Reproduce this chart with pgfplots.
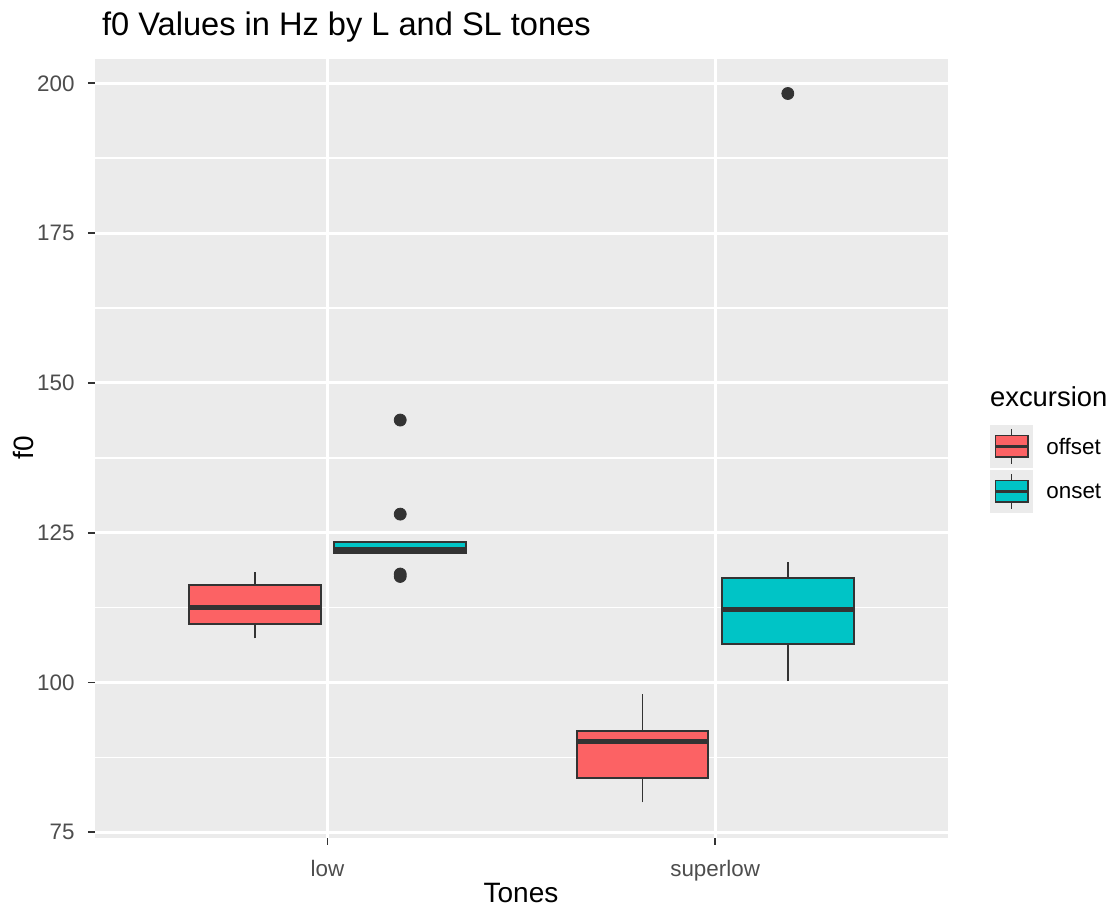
\documentclass[border=0pt]{standalone}
\usepackage{fontspec}
\setmainfont{Liberation Sans}
\usepackage{pgfplots}
\pgfplotsset{compat=1.18}
\definecolor{gray92}{HTML}{EBEBEB}
\definecolor{gray20}{HTML}{333333}
\definecolor{gray30}{HTML}{4D4D4D}
\definecolor{offsetc}{HTML}{FC6264}
\definecolor{onsetc}{HTML}{00C4C6}
% legend key, ggplot style, 21.5pt square with lower left corner at (#2,#3)
\newcommand{\keyimg}[3]{%
  \fill[gray92] (#2,#3) rectangle ++(21.5pt,21.5pt);
  \draw[gray20, line width=0.9pt] ([shift={(10.75pt,2.15pt)}]#2,#3) -- ++(0,17.2pt);
  \draw[gray20, line width=0.9pt, fill=#1] ([shift={(2.7pt,5.4pt)}]#2,#3) rectangle ++(16.1pt,10.8pt);
  \draw[gray20, line width=1.4pt] ([shift={(2.7pt,10.75pt)}]#2,#3) -- ++(16.1pt,0);}
\pgfplotsset{
  whisk/.style={gray20, line width=0.95pt, no markers},
  box/.style={draw=gray20, fill=#1, line width=0.95pt, no markers},
  med/.style={gray20, line width=2.5pt, no markers},
  outl/.style={only marks, mark=*, mark size=3pt, draw=gray20, fill=gray20},
}
\begin{document}
\begin{tikzpicture}
\useasboundingbox (0,0) rectangle (554pt,454.5pt);
\begin{axis}[
  at={(47.5pt,35.5pt)}, anchor=south west,
  scale only axis, width=426.35pt, height=389.5pt,
  xmin=0.4, xmax=2.6, ymin=74.05, ymax=204.06,
  axis background/.style={fill=gray92},
  axis line style={draw=none},
  xtick={1,2}, xticklabels={low,superlow},
  ytick={75,100,125,150,175,200},
  minor ytick={87.5,112.5,137.5,162.5,187.5},
  grid=both,
  major grid style={white, line width=1.5pt},
  minor grid style={white, line width=0.75pt},
  tick align=outside, major tick length=3.5pt, minor tick length=0pt,
  tick style={gray20, line width=0.9pt},
  xtick pos=bottom, ytick pos=left,
  /pgf/number format/assume math mode=true,
  ticklabel style={font=\fontsize{11.2}{13}\selectfont, text=gray30},
  yticklabel style={anchor=east, inner sep=0pt, xshift=-6.5pt},
  xticklabel style={anchor=north, inner sep=0pt, yshift=-7.5pt},
]
% low / offset: whiskers 107.38-118.5, box 109.77-116.27, median 112.55
\addplot[whisk] coordinates {(0.8125,107.38) (0.8125,118.5)};
\addplot[box=offsetc] coordinates {(0.6425,109.77) (0.9825,109.77) (0.9825,116.27) (0.6425,116.27)} -- cycle;
\addplot[med] coordinates {(0.6425,112.55) (0.9825,112.55)};
% low / onset: box 121.66-123.5, median 122.2, outliers
\addplot[box=onsetc] coordinates {(1.0175,121.66) (1.3575,121.66) (1.3575,123.5) (1.0175,123.5)} -- cycle;
\addplot[med] coordinates {(1.0175,122.2) (1.3575,122.2)};
\addplot[outl] coordinates {(1.1875,143.8) (1.1875,128.1) (1.1875,117.7) (1.1875,118.1)};
% superlow / offset: whiskers 80.0-98.1, box 84.0-91.9, median 90.2
\addplot[whisk] coordinates {(1.8125,80.0) (1.8125,98.1)};
\addplot[box=offsetc] coordinates {(1.6425,84.0) (1.9825,84.0) (1.9825,91.9) (1.6425,91.9)} -- cycle;
\addplot[med] coordinates {(1.6425,90.2) (1.9825,90.2)};
% superlow / onset: whiskers 100.25-120.06, box 106.5-117.4, median 112.15
\addplot[whisk] coordinates {(2.1875,100.25) (2.1875,120.06)};
\addplot[box=onsetc] coordinates {(2.0175,106.5) (2.3575,106.5) (2.3575,117.4) (2.0175,117.4)} -- cycle;
\addplot[med] coordinates {(2.0175,112.15) (2.3575,112.15)};
\addplot[outl] coordinates {(2.1875,198.3)};
\end{axis}
\node[anchor=base west, font=\fontsize{16.3}{20}\selectfont] at (47.5pt,436.5pt) {f0 Values in Hz by L and SL tones};
\node[anchor=base, font=\fontsize{14}{17}\selectfont] at (260.5pt,3pt) {Tones};
\node[anchor=base, rotate=90, font=\fontsize{14}{17}\selectfont] at (16.5pt,230.5pt) {f0};
% legend
\node[anchor=base west, font=\fontsize{13.7}{17}\selectfont] at (491.5pt,251pt) {excursion};
\keyimg{offsetc}{495pt}{220.5pt}
\keyimg{onsetc}{495pt}{198pt}
\node[anchor=west, inner sep=0pt, font=\fontsize{11.2}{13}\selectfont] at (523pt,231.25pt) {offset};
\node[anchor=west, inner sep=0pt, font=\fontsize{11.2}{13}\selectfont] at (523pt,208.75pt) {onset};
\end{tikzpicture}
\end{document}
